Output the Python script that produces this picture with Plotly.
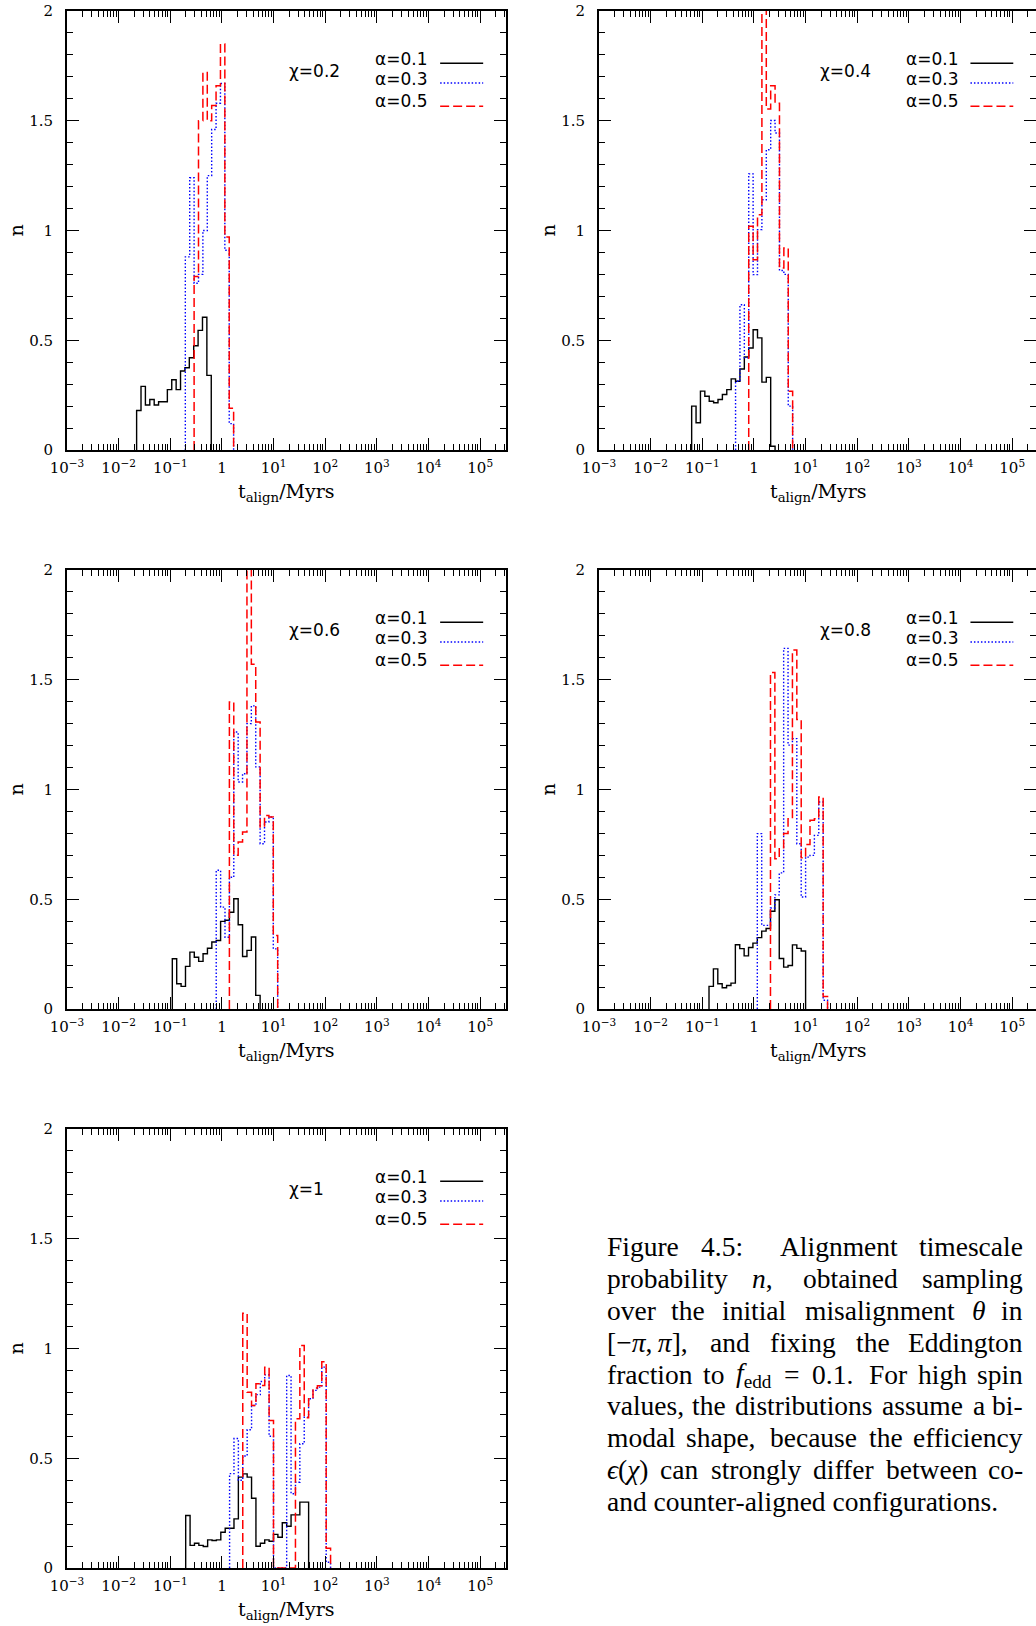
import re
import plotly.graph_objects as go

# ---------------- data ----------------
bin_width_dex = 0.085          # histogram bin width in log10(t/Myr)

x_tick_vals = [1e-3, 1e-2, 1e-1, 1, 1e1, 1e2, 1e3, 1e4, 1e5]
x_tick_text = ["10<sup>−3</sup>", "10<sup>−2</sup>", "10<sup>−1</sup>", "1",
               "10<sup>1</sup>", "10<sup>2</sup>", "10<sup>3</sup>",
               "10<sup>4</sup>", "10<sup>5</sup>"]
y_tick_vals = [0, 0.5, 1, 1.5, 2]
y_tick_text = ["0", "0.5", "1", "1.5", "2"]

chi_labels = ["χ=0.2", "χ=0.4", "χ=0.6", "χ=0.8", "χ=1"]
alpha_labels = ["α=0.1", "α=0.3", "α=0.5"]

# chi = 0.2
chi02_a01_start = -1.652
chi02_a01_n = [0.18, 0.29, 0.205, 0.23, 0.205, 0.22, 0.22, 0.275, 0.32, 0.275,
               0.36, 0.375, 0.42, 0.475, 0.545, 0.605, 0.34]
chi02_a03_start = -0.709
chi02_a03_n = [0.88, 1.24, 0.76, 0.80, 1.00, 1.25, 1.46, 1.58, 1.67, 0.91, 0.12]
chi02_a05_start = -0.539
chi02_a05_n = [0.79, 1.50, 1.72, 1.50, 1.57, 1.66, 1.85, 0.97, 0.19]

# chi = 0.4
chi04_a01_start = -1.206
chi04_a01_n = [0.200, 0.124, 0.268, 0.245, 0.222, 0.215, 0.230, 0.253, 0.275, 0.324,
               0.313, 0.369, 0.424, 0.465, 0.548, 0.511, 0.309, 0.331, 0.017]
chi04_a03_start = -0.356
chi04_a03_n = [0.313, 0.662, 0.420, 1.258, 0.799, 1.004, 1.140, 1.368, 1.501, 1.444,
               0.818, 0.800, 0.200]
chi04_a05_start = -0.101
chi04_a05_n = [1.019, 0.867, 1.072, 2.30, 1.553, 1.659, 1.580, 0.829, 0.920, 0.268]

# chi = 0.6
chi06_a01_start = -0.961
chi06_a01_n = [0.229, 0.115, 0.103, 0.194, 0.259, 0.236, 0.217, 0.252, 0.277, 0.305,
               0.312, 0.399, 0.404, 0.441, 0.502, 0.384, 0.239, 0.267, 0.328, 0.062]
chi06_a03_start = -0.111
chi06_a03_n = [0.632, 0.464, 0.327, 0.600, 1.262, 1.034, 1.072, 1.300, 1.381, 1.103,
               0.753, 0.852, 0.875, 0.274]
chi06_a05_start = 0.144
chi06_a05_n = [1.399, 0.700, 0.761, 0.806, 2.30, 1.571, 1.308, 0.829, 0.882, 0.875, 0.335]

# chi = 0.8
chi08_a01_start = -0.870
chi08_a01_n = [0.103, 0.183, 0.115, 0.097, 0.107, 0.118, 0.293, 0.275, 0.242, 0.280,
               0.300, 0.325, 0.355, 0.367, 0.445, 0.498, 0.230, 0.191, 0.198, 0.292,
               0.276, 0.264]
chi08_a03_start = 0.065
chi08_a03_n = [0.799, 0.381, 0.381, 0.460, 0.520, 0.620, 1.643, 1.202, 1.232, 0.753,
               0.510, 0.692, 0.700, 0.791, 0.943, 0.040]
chi08_a05_start = 0.320
chi08_a05_n = [1.533, 0.685, 0.735, 0.799, 0.867, 1.635, 1.319, 0.689, 0.750, 0.860,
               0.867, 0.966, 0.057]

# chi = 1
chi10_a01_start = -0.702
chi10_a01_n = [0.239, 0.103, 0.113, 0.103, 0.098, 0.128, 0.125, 0.128, 0.163, 0.181,
               0.181, 0.224, 0.414, 0.429, 0.414, 0.318, 0.099, 0.113, 0.128, 0.122,
               0.153, 0.140, 0.206, 0.190, 0.242, 0.242, 0.300, 0.300]
chi10_a03_start = 0.148
chi10_a03_n = [0.43, 0.59, 0.40, 0.51, 0.63, 0.74, 0.79, 0.85, 0.88, 0.60,
               0, 0, 0,
               0.877, 0.338, 0.391, 0.566, 0.687, 0.771, 0.809, 0.824, 0.915, 0.026]
chi10_a05_start = 0.403
chi10_a05_n = [1.161, 0.801, 0.740, 0.839, 0.831, 0.915, 0.672,
               0, 0, 0, 0, 0,
               0.68, 1.014, 0.684, 0.771, 0.820, 0.830, 0.940, 0.090]

panel_series = [
    [(chi02_a01_start, chi02_a01_n), (chi02_a03_start, chi02_a03_n), (chi02_a05_start, chi02_a05_n)],
    [(chi04_a01_start, chi04_a01_n), (chi04_a03_start, chi04_a03_n), (chi04_a05_start, chi04_a05_n)],
    [(chi06_a01_start, chi06_a01_n), (chi06_a03_start, chi06_a03_n), (chi06_a05_start, chi06_a05_n)],
    [(chi08_a01_start, chi08_a01_n), (chi08_a03_start, chi08_a03_n), (chi08_a05_start, chi08_a05_n)],
    [(chi10_a01_start, chi10_a01_n), (chi10_a03_start, chi10_a03_n), (chi10_a05_start, chi10_a05_n)],
]

# words of one line are separated by plain spaces; "\u2009" keeps a group together
caption_lines = [
    "Figure 4.5: Alignment timescale",
    "probability <i>n</i>, obtained sampling",
    "over the initial misalignment <i>θ</i> in",
    "[−<i>π</i>,\u2009<i>π</i>], and fixing the Eddington",
    "fraction to <i>f</i><sub>edd</sub> = 0.1. For high spin",
    "values, the distributions assume a bi-",
    "modal shape, because the efficiency",
    "<i>ϵ</i>(<i>χ</i>) can strongly differ between co-",
    "and counter-aligned configurations.",
]

# ---------------- layout constants ----------------
FW, FH = 1036, 1626
PW = 439
cols = [67, 599]
rows = [11, 570, 1129]
panel_pos = [(0, 0), (0, 1), (1, 0), (1, 1), (2, 0)]
decade_px = 51.65

line_styles = [
    dict(color="black", width=1.4, dash="solid"),
    dict(color="#0000ff", width=1.4, dash="1.5px,2px"),
    dict(color="#ff0000", width=1.5, dash="9px,4px"),
]

serif = "DejaVu Serif"
sans = "DejaVu Sans"
capfont = "Liberation Serif"


def step_xy(start, heights):
    xs = [10 ** start]
    ys = [0]
    for i, h in enumerate(heights):
        xs.append(10 ** (start + i * bin_width_dex))
        ys.append(h)
    xs.append(10 ** (start + len(heights) * bin_width_dex))
    ys.append(0)
    return xs, ys


minor_x = [k * 10 ** d for d in range(-3, 6) for k in range(2, 10)]

fig = go.Figure()
layout = {}
annotations = []
shapes = []

for p, (r, c) in enumerate(panel_pos):
    xid = "x" if p == 0 else f"x{p+1}"
    yid = "y" if p == 0 else f"y{p+1}"
    xa = "xaxis" if p == 0 else f"xaxis{p+1}"
    ya = "yaxis" if p == 0 else f"yaxis{p+1}"
    left = cols[c]
    right = min(left + PW, FW)
    top = rows[r]
    bottom = top + PW
    xmax = -3 + (right - left) / decade_px

    for s, (start, heights) in enumerate(panel_series[p]):
        xs, ys = step_xy(start, heights)
        fig.add_trace(go.Scatter(
            x=xs, y=ys, mode="lines", line_shape="hv",
            line=line_styles[s], xaxis=xid, yaxis=yid,
            name=alpha_labels[s], showlegend=False, hoverinfo="skip"))

    layout[xa] = dict(
        type="log", domain=[left / FW, right / FW], range=[-3, xmax], anchor=yid,
        tickmode="array", tickvals=x_tick_vals, ticktext=x_tick_text,
        ticks="inside", ticklen=12, tickwidth=1, tickcolor="black",
        showline=True, linewidth=2, linecolor="black", mirror="ticks",
        showgrid=False, zeroline=False, automargin=False,
        minor=dict(tickmode="array", tickvals=minor_x, ticks="inside", ticklen=6,
                   tickwidth=1, tickcolor="black", showgrid=False),
        tickfont=dict(family=serif, size=15, color="black"),
        ticklabelstandoff=3, fixedrange=True)
    layout[ya] = dict(
        domain=[1 - bottom / FH, 1 - top / FH], range=[0, 2], anchor=xid,
        tickmode="array", tickvals=y_tick_vals, ticktext=y_tick_text,
        ticks="inside", ticklen=12, tickwidth=1, tickcolor="black",
        showline=True, linewidth=2, linecolor="black", mirror="ticks",
        showgrid=False, zeroline=False, automargin=False,
        minor=dict(dtick=0.1, ticks="inside", ticklen=6, tickwidth=1,
                   tickcolor="black", showgrid=False),
        tickfont=dict(family=serif, size=15, color="black"),
        ticklabelstandoff=9, fixedrange=True)

    xd = f"{xid} domain"
    yd = f"{yid} domain"
    annotations.append(dict(xref=xd, yref=yd, x=0.50, y=0.864, xanchor="left",
                            yanchor="middle", text=chi_labels[p], showarrow=False,
                            font=dict(family=sans, size=17, color="black")))
    text_y = [0.890, 0.844, 0.796]
    line_y = [0.881, 0.836, 0.783]
    for s in range(3):
        annotations.append(dict(xref=xd, yref=yd, x=0.697, y=text_y[s], xanchor="left",
                                yanchor="middle", text=alpha_labels[s], showarrow=False,
                                font=dict(family=sans, size=17, color="black")))
        shapes.append(dict(type="line", xref=xd, yref=yd, x0=0.850, x1=0.948,
                           y0=line_y[s], y1=line_y[s], line=line_styles[s]))
    annotations.append(dict(xref="paper", yref="paper", x=(left + 219.5) / FW,
                            y=1 - (bottom + 42) / FH, xanchor="center", yanchor="middle",
                            text="t<sub>align</sub>/Myrs", showarrow=False,
                            font=dict(family=serif, size=19, color="black")))
    annotations.append(dict(xref="paper", yref="paper", x=(left - 52) / FW,
                            y=1 - (top + PW / 2) / FH, xanchor="center", yanchor="middle",
                            text="n", textangle=-90, showarrow=False,
                            font=dict(family=serif, size=19, color="black")))

# ---------------- caption, justified word by word ----------------
cap_left, cap_right = 605, 1025
cap_size = 27.5
cap_y0, cap_dy = 1246.4, 31.9

# approximate advance widths (em) of the caption font
_w = dict(zip("abcdefghijklmnopqrstuvwxyz",
              [.444, .5, .444, .5, .444, .333, .5, .5, .278, .278, .5, .278, .778,
               .5, .5, .5, .5, .333, .389, .278, .5, .5, .722, .5, .5, .444]))
_w.update({"A": .722, "E": .611, "F": .556, ".": .25, ",": .25, ":": .278, "-": .333,
           "−": .564, "=": .564, "[": .333, "]": .333, "(": .333, ")": .333, " ": .25,
           "\u2009": .2, "θ": .5, "π": .52, "χ": .48, "ϵ": .42})
for d in "0123456789":
    _w[d] = .5


def word_em(html):
    total = 0.0
    for m in re.finditer(r"<sub>(.*?)</sub>|<[^>]+>|([^<]+)", html):
        if m.group(1) is not None:
            total += 0.7 * sum(_w.get(ch, .5) for ch in m.group(1))
        elif m.group(2) is not None:
            total += sum(_w.get(ch, .5) for ch in m.group(2))
    return total


def gap_weight(word):
    plain = re.sub(r"<[^>]+>", "", word)
    if plain.endswith(".") or plain.endswith(":"):
        return 1.8
    if plain.endswith(","):
        return 1.25
    return 1.0


def cap_annot(text, x, y, anchor):
    return dict(xref="paper", yref="paper", x=x / FW, y=1 - y / FH, xanchor=anchor,
                yanchor="middle", text=text, showarrow=False,
                font=dict(family=capfont, size=cap_size, color="black"))


for i, line in enumerate(caption_lines):
    yc = cap_y0 + i * cap_dy
    if i == len(caption_lines) - 1:
        annotations.append(cap_annot(line, cap_left, yc, "left"))
        continue
    words = line.split(" ")
    widths = [word_em(w) * cap_size for w in words]
    base_gap = 0.25 * cap_size
    weights = [gap_weight(w) for w in words[:-1]]
    slack = (cap_right - cap_left) - sum(widths) - base_gap * len(weights)
    per_w = slack / sum(weights)
    x = cap_left
    for j, w in enumerate(words):
        if j == 0:
            annotations.append(cap_annot(w, cap_left, yc, "left"))
        elif j == len(words) - 1:
            annotations.append(cap_annot(w, cap_right, yc, "right"))
        else:
            annotations.append(cap_annot(w, x + widths[j] / 2, yc, "center"))
        if j < len(weights):
            x += widths[j] + base_gap + per_w * weights[j]

fig.update_layout(
    width=FW, height=FH, autosize=False,
    margin=dict(l=0, r=0, t=0, b=0, pad=0, autoexpand=False),
    paper_bgcolor="white", plot_bgcolor="white", showlegend=False,
    annotations=annotations, shapes=shapes, **layout)

fig.write_html("out.html", config={"displayModeBar": False})
